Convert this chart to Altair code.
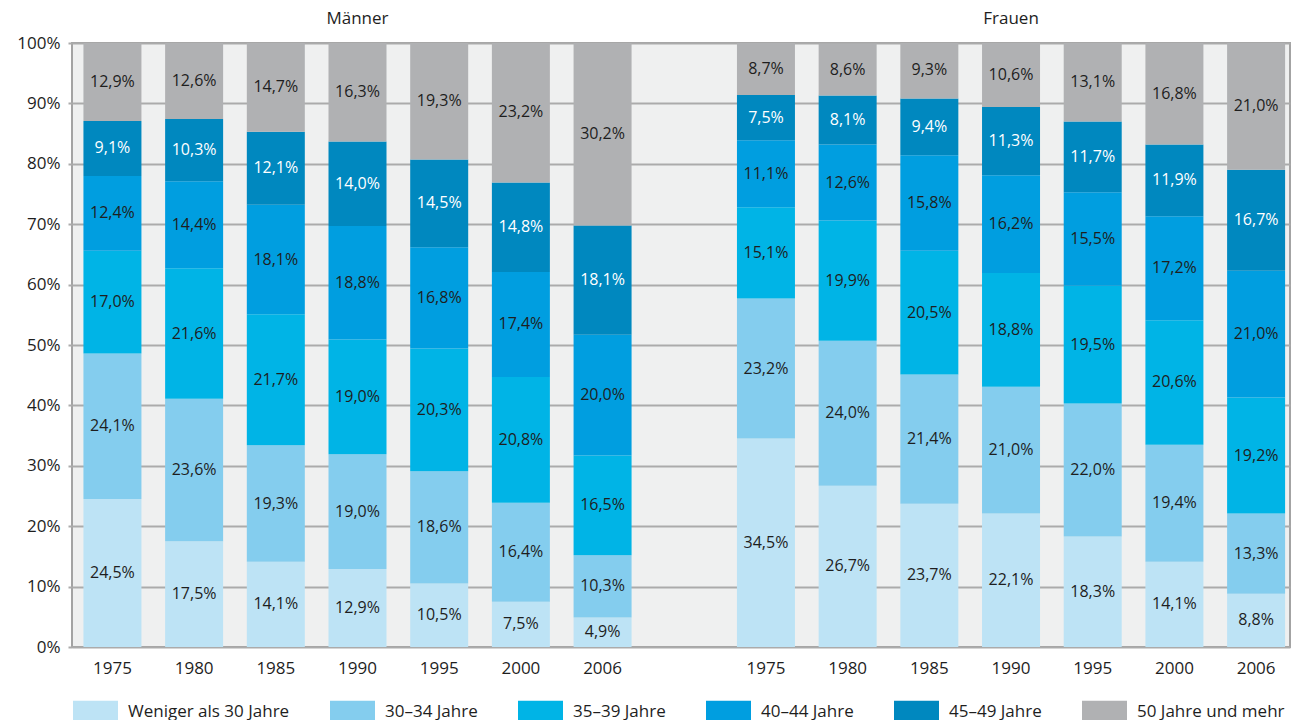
import altair as alt
import pandas as pd

years = ["1975", "1980", "1985", "1990", "1995", "2000", "2006"]
groups = ["Männer", "Frauen"]
group_prefix = ["M", "F"]
ages = ["Weniger als 30 Jahre", "30–34 Jahre", "35–39 Jahre",
        "40–44 Jahre", "45–49 Jahre", "50 Jahre und mehr"]
colors = ["#bde3f5", "#84cdee", "#00b4e6", "#009ee0", "#0088bf", "#b0b1b3"]

# values per age group (bottom to top), one entry per year
maenner_u30 = [24.5, 17.5, 14.1, 12.9, 10.5, 7.5, 4.9]
maenner_30 = [24.1, 23.6, 19.3, 19.0, 18.6, 16.4, 10.3]
maenner_35 = [17.0, 21.6, 21.7, 19.0, 20.3, 20.8, 16.5]
maenner_40 = [12.4, 14.4, 18.1, 18.8, 16.8, 17.4, 20.0]
maenner_45 = [9.1, 10.3, 12.1, 14.0, 14.5, 14.8, 18.1]
maenner_50 = [12.9, 12.6, 14.7, 16.3, 19.3, 23.2, 30.2]

frauen_u30 = [34.5, 26.7, 23.7, 22.1, 18.3, 14.1, 8.8]
frauen_30 = [23.2, 24.0, 21.4, 21.0, 22.0, 19.4, 13.3]
frauen_35 = [15.1, 19.9, 20.5, 18.8, 19.5, 20.6, 19.2]
frauen_40 = [11.1, 12.6, 15.8, 16.2, 15.5, 17.2, 21.0]
frauen_45 = [7.5, 8.1, 9.4, 11.3, 11.7, 11.9, 16.7]
frauen_50 = [8.7, 8.6, 9.3, 10.6, 13.1, 16.8, 21.0]

series = {
    "Männer": [maenner_u30, maenner_30, maenner_35, maenner_40, maenner_45, maenner_50],
    "Frauen": [frauen_u30, frauen_30, frauen_35, frauen_40, frauen_45, frauen_50],
}

rows = []
for g, p in zip(groups, group_prefix):
    for yi, yr in enumerate(years):
        cum = 0.0
        for ai, age in enumerate(ages):
            v = series[g][ai][yi]
            rows.append({
                "key": p + yr, "group": g, "year": yr, "age": age, "order": ai,
                "value": v, "y0": cum, "y1": cum + v, "mid": cum + v / 2,
                "label": f"{v:.1f}".replace(".", ",") + "%",
            })
            cum += v
df = pd.DataFrame(rows)

x_domain = [group_prefix[0] + y for y in years] + ["G"] + [group_prefix[1] + y for y in years]
titles = pd.DataFrame({"key": [group_prefix[0] + "1990", group_prefix[1] + "1990"], "title": groups})

FONT = "Open Sans"
TXT = "#1e1e1e"

xscale = alt.Scale(domain=x_domain, paddingInner=0.29, paddingOuter=0.1, align=0.7)
yscale = alt.Scale(domain=[0, 100], nice=False)

x_enc = alt.X("key:N", scale=xscale, title=None,
              axis=alt.Axis(labelExpr="datum.label == 'G' ? '' : slice(datum.label, 1)",
                            labelAngle=0, ticks=False, domain=False, grid=False,
                            labelPadding=13, labelFont=FONT, labelFontSize=17, labelColor=TXT))

bars = alt.Chart(df).mark_bar(clip=True).encode(
    x=x_enc,
    y=alt.Y("y0:Q", scale=yscale, title=None,
            axis=alt.Axis(values=list(range(0, 101, 10)), labelExpr="datum.value + '%'",
                          grid=True, gridColor="#ababab", gridWidth=2,
                          domain=False, tickSize=4, tickColor="#ababab", tickWidth=2,
                          labelPadding=8, labelFont=FONT, labelFontSize=17, labelColor=TXT)),
    y2="y1:Q",
    color=alt.Color("age:N", scale=alt.Scale(domain=ages, range=colors),
                    legend=alt.Legend(orient="none", legendX=1, legendY=646, direction="horizontal",
                                      columns=6, title=None,
                                      symbolType="M-1,-0.49H1V0.49H-1Z", symbolSize=2025,
                                      symbolStrokeWidth=0, symbolOpacity=1,
                                      labelFont=FONT, labelFontSize=17, labelColor=TXT,
                                      labelOffset=10, columnPadding=40, labelLimit=400)),
)

labels = alt.Chart(df).mark_text(font=FONT, fontSize=16, baseline="middle").encode(
    x=alt.X("key:N", scale=xscale),
    y=alt.Y("mid:Q", scale=yscale),
    text="label:N",
    fill=alt.condition(alt.datum.age == "45–49 Jahre", alt.value("white"), alt.value(TXT)),
)

heads = alt.Chart(titles).mark_text(font=FONT, fontSize=17, color=TXT, baseline="middle").encode(
    x=alt.X("key:N", scale=xscale),
    y=alt.value(-24),
    text="title:N",
)

chart = alt.layer(bars, labels, heads).properties(
    width=1218, height=604,
    autosize=alt.AutoSizeParams(type="none"),
    padding={"left": 64, "top": 35, "right": 7, "bottom": 73},
).configure_view(fill="#eff0f0", stroke="#a3a3a3", strokeWidth=2)

chart.save("out.html", embed_options={"renderer": "svg", "actions": False})
